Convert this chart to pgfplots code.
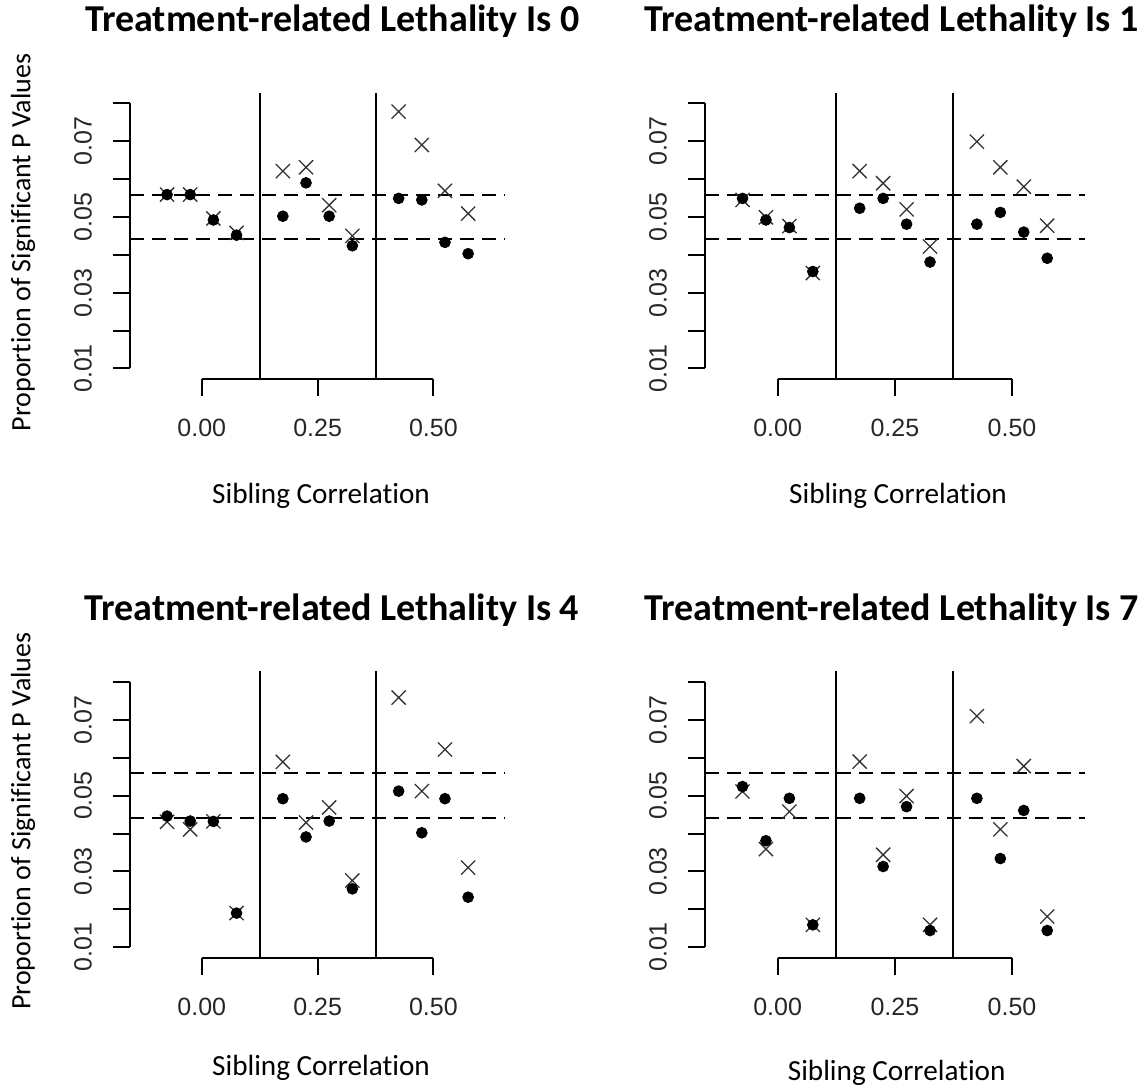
\documentclass[border=0pt]{standalone}
\usepackage{pgfplots}
\pgfplotsset{compat=1.18}
\usepackage{pgfplotstable}
\usepackage{fontspec}
\setmainfont{Carlito}[Ligatures={NoCommon,NoContextual}]
\newfontfamily\arialf{Liberation Sans}

% x = sibling correlation (dodged), d = dots, c = crosses
\pgfplotstableread{
x d c
-0.075 0.0559 0.0559
-0.025 0.0559 0.0559
0.025 0.0492 0.0496
0.075 0.0452 0.0458
0.175 0.0502 0.0621
0.225 0.0590 0.0631
0.275 0.0502 0.0531
0.325 0.0424 0.0450
0.425 0.0549 0.0778
0.475 0.0545 0.0690
0.525 0.0433 0.0569
0.575 0.0403 0.0509
}\tabA
\pgfplotstableread{
x d c
-0.075 0.0549 0.0545
-0.025 0.0492 0.0499
0.025 0.0472 0.0476
0.075 0.0356 0.0352
0.175 0.0523 0.0621
0.225 0.0549 0.0589
0.275 0.0481 0.0520
0.325 0.0381 0.0422
0.425 0.0481 0.0699
0.475 0.0512 0.0631
0.525 0.0460 0.0580
0.575 0.0391 0.0477
}\tabB
\pgfplotstableread{
x d c
-0.075 0.0446 0.0431
-0.025 0.0433 0.0411
0.025 0.0432 0.0432
0.075 0.0190 0.0190
0.175 0.0492 0.0589
0.225 0.0391 0.0429
0.275 0.0433 0.0469
0.325 0.0254 0.0276
0.425 0.0512 0.0759
0.475 0.0402 0.0512
0.525 0.0492 0.0622
0.575 0.0232 0.0310
}\tabC
\pgfplotstableread{
x d c
-0.075 0.0524 0.0511
-0.025 0.0381 0.0359
0.025 0.0493 0.0458
0.075 0.0159 0.0159
0.175 0.0493 0.0590
0.225 0.0313 0.0344
0.275 0.0471 0.0499
0.325 0.0144 0.0159
0.425 0.0493 0.0710
0.475 0.0334 0.0411
0.525 0.0461 0.0578
0.575 0.0144 0.0181
}\tabD

\pgfplotsset{
  rpanel/.style={
    scale only axis, anchor=north west,
    height=143.2bp,
    xmin=-0.155, xmax=0.655, ymin=0.0072, ymax=0.0828,
    axis x line*=bottom, axis y line*=left,
    axis line style={draw=none},
    scaled ticks=false,
    tick align=outside, major tick length=8.35bp,
    tick style={black, line width=1bp},
    xtick={0,0.25,0.5}, xticklabels={0.00,0.25,0.50},
    ytick={0.01,0.02,0.03,0.04,0.05,0.06,0.07,0.08},
    yticklabels={0.01,,0.03,,0.05,,0.07,},
    ticklabel style={font=\arialf\fontsize{12.5bp}{14bp}\selectfont, black!85},
    xticklabel style={anchor=center, yshift=-16bp},
    yticklabel style={anchor=center, xshift=-15.2bp, rotate=90},
    clip=false,
  },
}

\newcommand{\panel}[3]{%
  \begin{axis}[rpanel, at={#1}, width=#2]
    \addplot[black, line width=1bp] coordinates {(-0.155,0.01) (-0.155,0.08)};
    \addplot[black, line width=1bp] coordinates {(0,0.0072) (0.5,0.0072)};
    \addplot[black, line width=1bp] coordinates {(0.125,0.0072) (0.125,0.0828)};
    \addplot[black, line width=1bp] coordinates {(0.375,0.0072) (0.375,0.0828)};
    \addplot[black, line width=1bp, dash pattern=on 7bp off 4bp] coordinates {(-0.155,0.0559) (0.655,0.0559)};
    \addplot[black, line width=1bp, dash pattern=on 7bp off 4bp] coordinates {(-0.155,0.0441) (0.655,0.0441)};
    \addplot[only marks, mark=x, mark size=5bp, mark options={draw=black!80, line width=0.65bp}] table[x=x, y=c] {#3};
    \addplot[only marks, mark=*, mark size=2.7bp, black] table[x=x, y=d] {#3};
  \end{axis}%
}

\begin{document}
\begin{tikzpicture}
\path[use as bounding box] (0,0) rectangle (570bp,-545.5bp);

\panel{(65bp,-46.35bp)}{187.6bp}{\tabA}
\panel{(352.5bp,-46.35bp)}{189.85bp}{\tabB}
\panel{(65bp,-335.7bp)}{187.6bp}{\tabC}
\panel{(352.5bp,-335.7bp)}{189.85bp}{\tabD}

\begin{scope}[every node/.style={inner sep=0pt}]
\node[anchor=base, font=\bfseries\fontsize{19bp}{21bp}\selectfont] at (166.25bp,-15.85bp) {Treatment-related Lethality Is 0};
\node[anchor=base, font=\bfseries\fontsize{19bp}{21bp}\selectfont] at (445.85bp,-15.85bp) {Treatment-related Lethality Is 1};
\node[anchor=base, font=\bfseries\fontsize{19bp}{21bp}\selectfont] at (166bp,-310bp) {Treatment-related Lethality Is 4};
\node[anchor=base, font=\bfseries\fontsize{19bp}{21bp}\selectfont] at (445.85bp,-310bp) {Treatment-related Lethality Is 7};

\node[anchor=base, font=\fontsize{14.6bp}{16bp}\selectfont] at (160.5bp,-251.75bp) {Sibling Correlation};
\node[anchor=base, font=\fontsize{14.6bp}{16bp}\selectfont] at (449bp,-251.75bp) {Sibling Correlation};
\node[anchor=base, font=\fontsize{14.6bp}{16bp}\selectfont] at (160.5bp,-537.5bp) {Sibling Correlation};
\node[anchor=base, font=\fontsize{14.6bp}{16bp}\selectfont] at (448.35bp,-540bp) {Sibling Correlation};

\node[rotate=90, font=\fontsize{14bp}{16bp}\selectfont] at (11.5bp,-121.2bp) {Proportion of Significant P Values};
\node[rotate=90, font=\fontsize{14bp}{16bp}\selectfont] at (11.5bp,-410.5bp) {Proportion of Significant P Values};
\end{scope}
\end{tikzpicture}
\end{document}
